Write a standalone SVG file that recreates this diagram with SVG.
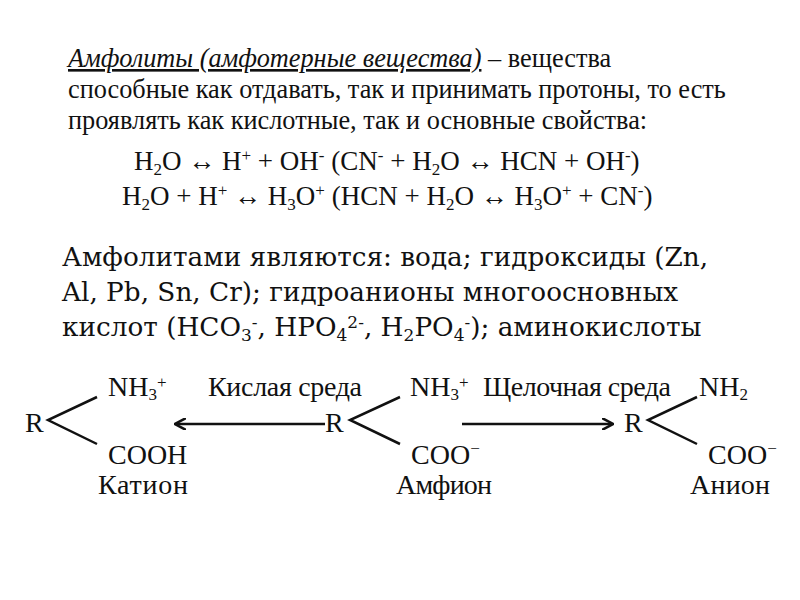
<svg xmlns="http://www.w3.org/2000/svg" width="800" height="600" viewBox="0 0 800 600">
<style>
.t{font-family:"Liberation Serif",serif;font-size:26.3px;fill:#111}
.e{font-family:"Liberation Serif",serif;font-size:27px;fill:#111}
.m{font-family:"DejaVu Serif",serif;font-size:26.3px;fill:#111}
.c{font-family:"Liberation Serif",serif;font-size:28px;fill:#111}
.s{font-size:17px}
.ln{stroke:#111;stroke-width:2.5;fill:none}
</style>
<defs><marker id="ah" markerWidth="12" markerHeight="12" refX="10" refY="6" orient="auto" markerUnits="userSpaceOnUse"><path d="M0,0 L11,6 L0,12" fill="none" stroke="#111" stroke-width="2.5"/></marker></defs>
<rect width="800" height="600" fill="#fff"/>
<g id="definition">
<text class="t" x="68" y="67"><tspan font-style="italic" text-decoration="underline">Амфолиты (амфотерные вещества)</tspan> – вещества</text>
<text class="t" x="68" y="98">способные как отдавать, так и принимать протоны, то есть</text>
<text class="t" x="68" y="129">проявлять как кислотные, так и основные свойства:</text>
<text class="e" x="134" y="170">H<tspan class="s" dy="5">2</tspan><tspan dy="-5">O ↔ H</tspan><tspan class="s" dy="-9">+</tspan><tspan dy="9"> + OH</tspan><tspan class="s" dy="-9">-</tspan><tspan dy="9">  (CN</tspan><tspan class="s" dy="-9">-</tspan><tspan dy="9"> + H</tspan><tspan class="s" dy="5">2</tspan><tspan dy="-5">O ↔ HCN + OH</tspan><tspan class="s" dy="-9">-</tspan><tspan dy="9">)</tspan></text>
<text class="e" x="122" y="205">H<tspan class="s" dy="5">2</tspan><tspan dy="-5">O + H</tspan><tspan class="s" dy="-9">+</tspan><tspan dy="9"> ↔ H</tspan><tspan class="s" dy="5">3</tspan><tspan dy="-5">O</tspan><tspan class="s" dy="-9">+</tspan><tspan dy="9">  (HCN + H</tspan><tspan class="s" dy="5">2</tspan><tspan dy="-5">O ↔ H</tspan><tspan class="s" dy="5">3</tspan><tspan dy="-5">O</tspan><tspan class="s" dy="-9">+</tspan><tspan dy="9"> + CN</tspan><tspan class="s" dy="-9">-</tspan><tspan dy="9">)</tspan></text>
</g>
<g id="ampholytes">
<text class="m" x="62" y="266">Амфолитами являются: вода; гидроксиды (Zn,</text>
<text class="m" x="62" y="301">Al, Pb, Sn, Cr); гидроанионы многоосновных</text>
<text class="m" x="62" y="336">кислот (HCO<tspan class="s" dy="5">3</tspan><tspan class="s" dy="-13">-</tspan><tspan dy="8">, HPO</tspan><tspan class="s" dy="5">4</tspan><tspan class="s" dy="-13">2-</tspan><tspan dy="8">, H</tspan><tspan class="s" dy="5">2</tspan><tspan dy="-5">PO</tspan><tspan class="s" dy="5">4</tspan><tspan class="s" dy="-13">-</tspan><tspan dy="8">); аминокислоты</tspan></text>
</g>
<g id="cation">
<text class="c" x="108" y="396">NH<tspan class="s" dy="4">3</tspan><tspan class="s" dy="-12">+</tspan></text>
<text class="c" x="25" y="432">R</text>
<text class="c" x="108" y="464">COOH</text>
<text class="c" x="98" y="494" textLength="90">Катион</text>
<path class="ln" d="M97,397 L48,420 L97,444"/>
</g>
<g id="amphion">
<text class="c" x="410" y="396">NH<tspan class="s" dy="4">3</tspan><tspan class="s" dy="-12">+</tspan></text>
<text class="c" x="325" y="432">R</text>
<text class="c" x="411" y="464">COO<tspan class="s" dy="-10">−</tspan></text>
<text class="c" x="396" y="494" textLength="96">Амфион</text>
<path class="ln" d="M400,397 L350,420 L400,444"/>
</g>
<g id="anion">
<text class="c" x="699" y="396">NH<tspan class="s" dy="4">2</tspan></text>
<text class="c" x="624" y="432">R</text>
<text class="c" x="708" y="464">COO<tspan class="s" dy="-10">−</tspan></text>
<text class="c" x="690" y="494" textLength="80">Анион</text>
<path class="ln" d="M697,397 L648,420 L697,444"/>
</g>
<g id="connectors">
<line class="ln" x1="325" y1="424" x2="176" y2="424" marker-end="url(#ah)"/>
<text class="c" x="208" y="396" textLength="154">Кислая среда</text>
<line class="ln" x1="462" y1="424" x2="612" y2="424" marker-end="url(#ah)"/>
<text class="c" x="483" y="396" textLength="188">Щелочная среда</text>
</g>
</svg>
